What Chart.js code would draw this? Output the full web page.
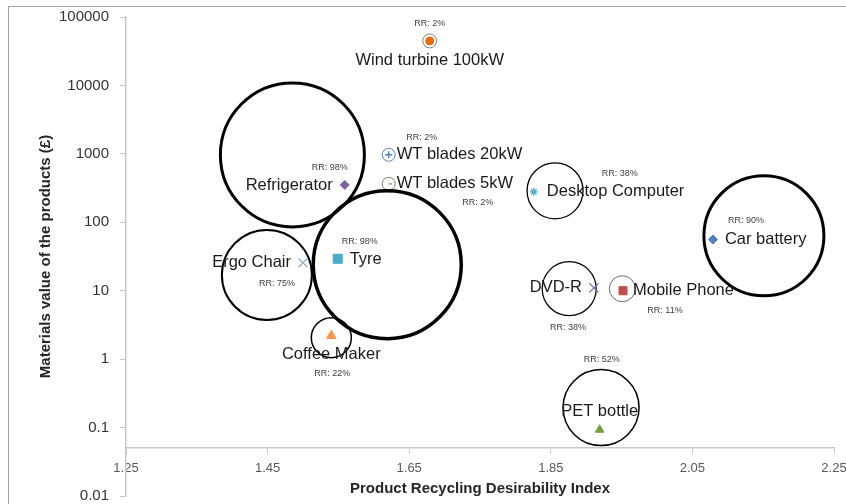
<!DOCTYPE html>
<html>
<head>
<meta charset="utf-8">
<script src="https://cdn.jsdelivr.net/npm/chart.js@4"></script>
<style>
  body { margin: 0; background: #fff; overflow: hidden; }
  #wrap { position: relative; width: 846px; height: 504px; }
  #frame { position: absolute; left: 8px; top: 6px; width: 840px; height: 500px;
           border-left: 1px solid #a6a6a6; border-top: 1px solid #a6a6a6; pointer-events: none; }
</style>
</head>
<body>
<div id="wrap">
  <canvas id="mychart" width="846" height="504"></canvas>
  <div id="frame"></div>
</div>
<script>
// products and their markers
const products = ['Wind turbine 100kW', 'WT blades 20kW', 'WT blades 5kW', 'Refrigerator', 'Desktop Computer',
                  'Car battery', 'Ergo Chair', 'Tyre', 'DVD-R', 'Mobile Phone', 'Coffee Maker', 'PET bottle'];
const desirability = [1.679, 1.621, 1.621, 1.559, 1.826, 2.079, 1.50, 1.549, 1.911, 1.952, 1.540, 1.919];
const materialsValue = [44700, 970, 365, 352, 279, 56, 25.6, 29.3, 11, 10, 2.2, 0.093];
const recyclingRate = [2, 2, 2, 98, 38, 90, 75, 98, 38, 11, 22, 52];

// bubble outlines
const circleX = [1.679, 1.621, 1.621, 1.485, 1.856, 2.151, 1.449, 1.619, 1.876, 1.951, 1.540, 1.921];
const circleY = [44700, 970, 365, 966, 288, 63.5, 17, 24, 10.7, 10.7, 2.06, 0.196];
const circleSize = [7, 6.5, 6.5, 72, 28, 60, 45, 74, 27, 13, 20, 38];

const xTicks = [1.25, 1.45, 1.65, 1.85, 2.05, 2.25];
const yTicks = [0.01, 0.1, 1, 10, 100, 1000, 10000, 100000];

const font = '"Liberation Sans", Arial, sans-serif';

const markerStyle = ['circle', 'cross', 'dash', 'rectRot', 'star', 'rectRot', 'crossRot', 'rect', 'crossRot', 'rect', 'triangle', 'triangle'];
const markerColor = ['#E46C0A', '#4F81BD', '#9BBB59', '#8064A2', '#4BACC6', '#4F81BD', '#95B3D7', '#4BACC6', '#8064A2', '#C0504D', '#F79646', '#77A03C'];
const markerRadius = [4, 3.5, 3.5, 4.5, 4, 4.5, 6.4, 6.4, 6.4, 5.7, 5.5, 5];
const markerBorder = [1, 1.5, 1.8, 1, 1.3, 1, 1.3, 1, 1.3, 1, 1, 1];

const ringColor = ['#7f7f7f', '#5b82b8', '#7d8a6c', '#000', '#000', '#000', '#000', '#000', '#000', '#6a6a6a', '#000', '#000'];
const ringWidth = [1, 1, 1, 3, 1.3, 3, 2, 3.5, 1.3, 1, 1.5, 1.5];

// label offsets from the marker: [dx, dy, align] and RR [dx, dy]
const nameOffsets = [[0, 20, 'center'], [8, 0, 'left'], [8, 0, 'left'], [-12, 1, 'right'], [13, 0, 'left'],
                     [12, 0, 'left'], [-12, 0, 'right'], [12, 1, 'left'], [-12, 0, 'right'], [10, 0, 'left'],
                     [0, 19, 'center'], [0, -18, 'center']];
const rrOffsets = [[0, -17], [33, -17], [89, 19], [-15, -17], [86, -18], [33, -19], [-26, 21], [22, -17],
                   [-26, 40], [42, 20], [1, 38], [2, -70]];

const labelPlugin = {
  id: 'productLabels',
  afterDatasetsDraw(chart) {
    const {ctx, scales: {x, y}} = chart;
    ctx.save();
    ctx.textBaseline = 'middle';
    products.forEach((name, i) => {
      const px = x.getPixelForValue(desirability[i]);
      const py = y.getPixelForValue(materialsValue[i]);
      const n = nameOffsets[i];
      ctx.font = '16.5px ' + font;
      ctx.fillStyle = '#1a1a1a';
      ctx.textAlign = n[2];
      ctx.fillText(name, px + n[0], py + n[1]);
      const r = rrOffsets[i];
      ctx.font = '9px ' + font;
      ctx.fillStyle = '#404040';
      ctx.textAlign = 'center';
      ctx.fillText('RR: ' + recyclingRate[i] + '%', px + r[0], py + r[1]);
    });
    ctx.restore();
  }
};

// keep the axes' label overhang from shrinking the plot area
function noPadding(s) {
  s.paddingLeft = 0; s.paddingRight = 0; s.paddingTop = 0; s.paddingBottom = 0;
}

const ctx = document.getElementById('mychart');
new Chart(ctx, {
  data: {
    datasets: [{
      type: 'scatter',
      label: 'Products',
      order: 0,
      data: products.map((p, i) => ({x: desirability[i], y: materialsValue[i]})),
      pointStyle: markerStyle,
      pointRadius: markerRadius,
      pointBackgroundColor: markerColor,
      pointBorderColor: markerColor,
      pointBorderWidth: markerBorder
    }, {
      type: 'bubble',
      label: 'Size',
      order: 1,
      data: products.map((p, i) => ({x: circleX[i], y: circleY[i], r: circleSize[i]})),
      backgroundColor: 'rgba(0,0,0,0)',
      borderColor: ringColor,
      borderWidth: ringWidth
    }]
  },
  options: {
    responsive: false,
    animation: false,
    events: [],
    layout: { autoPadding: false, padding: { top: 17, left: 33, right: 12, bottom: 8 } },
    plugins: { legend: { display: false }, tooltip: { enabled: false } },
    scales: {
      x: {
        type: 'linear',
        position: { y: 0.05 },
        min: 1.25,
        max: 2.25,
        afterBuildTicks: s => { s.ticks = xTicks.map(v => ({value: v})); },
        afterFit: s => { noPadding(s); s.height = 50; },
        ticks: { callback: v => v.toFixed(2), font: { family: font, size: 13 }, color: '#595959', padding: 7, maxRotation: 0 },
        grid: { drawOnChartArea: false, tickLength: 5, color: '#c8c8c8' },
        border: { color: '#c8c8c8', width: 1.5 },
        title: { display: true, text: 'Product Recycling Desirability Index', color: '#262626',
                 font: { family: font, size: 15, weight: 'bold' }, padding: { top: 0, bottom: 0 } }
      },
      y: {
        type: 'logarithmic',
        position: 'left',
        min: 0.01,
        max: 100000,
        afterBuildTicks: s => { s.ticks = yTicks.map(v => ({value: v})); },
        afterFit: s => { noPadding(s); s.width = 93; },
        ticks: { callback: v => String(v), font: { family: font, size: 15 }, color: '#333', padding: 11 },
        grid: { drawOnChartArea: false, tickLength: 6, color: '#c8c8c8' },
        border: { color: '#c8c8c8', width: 1.5 },
        title: { display: true, text: 'Materials value of the products (£)', color: '#262626',
                 font: { family: font, size: 15, weight: 'bold' }, padding: { top: 4, bottom: 4 } }
      }
    }
  },
  plugins: [labelPlugin]
});
</script>
</body>
</html>
